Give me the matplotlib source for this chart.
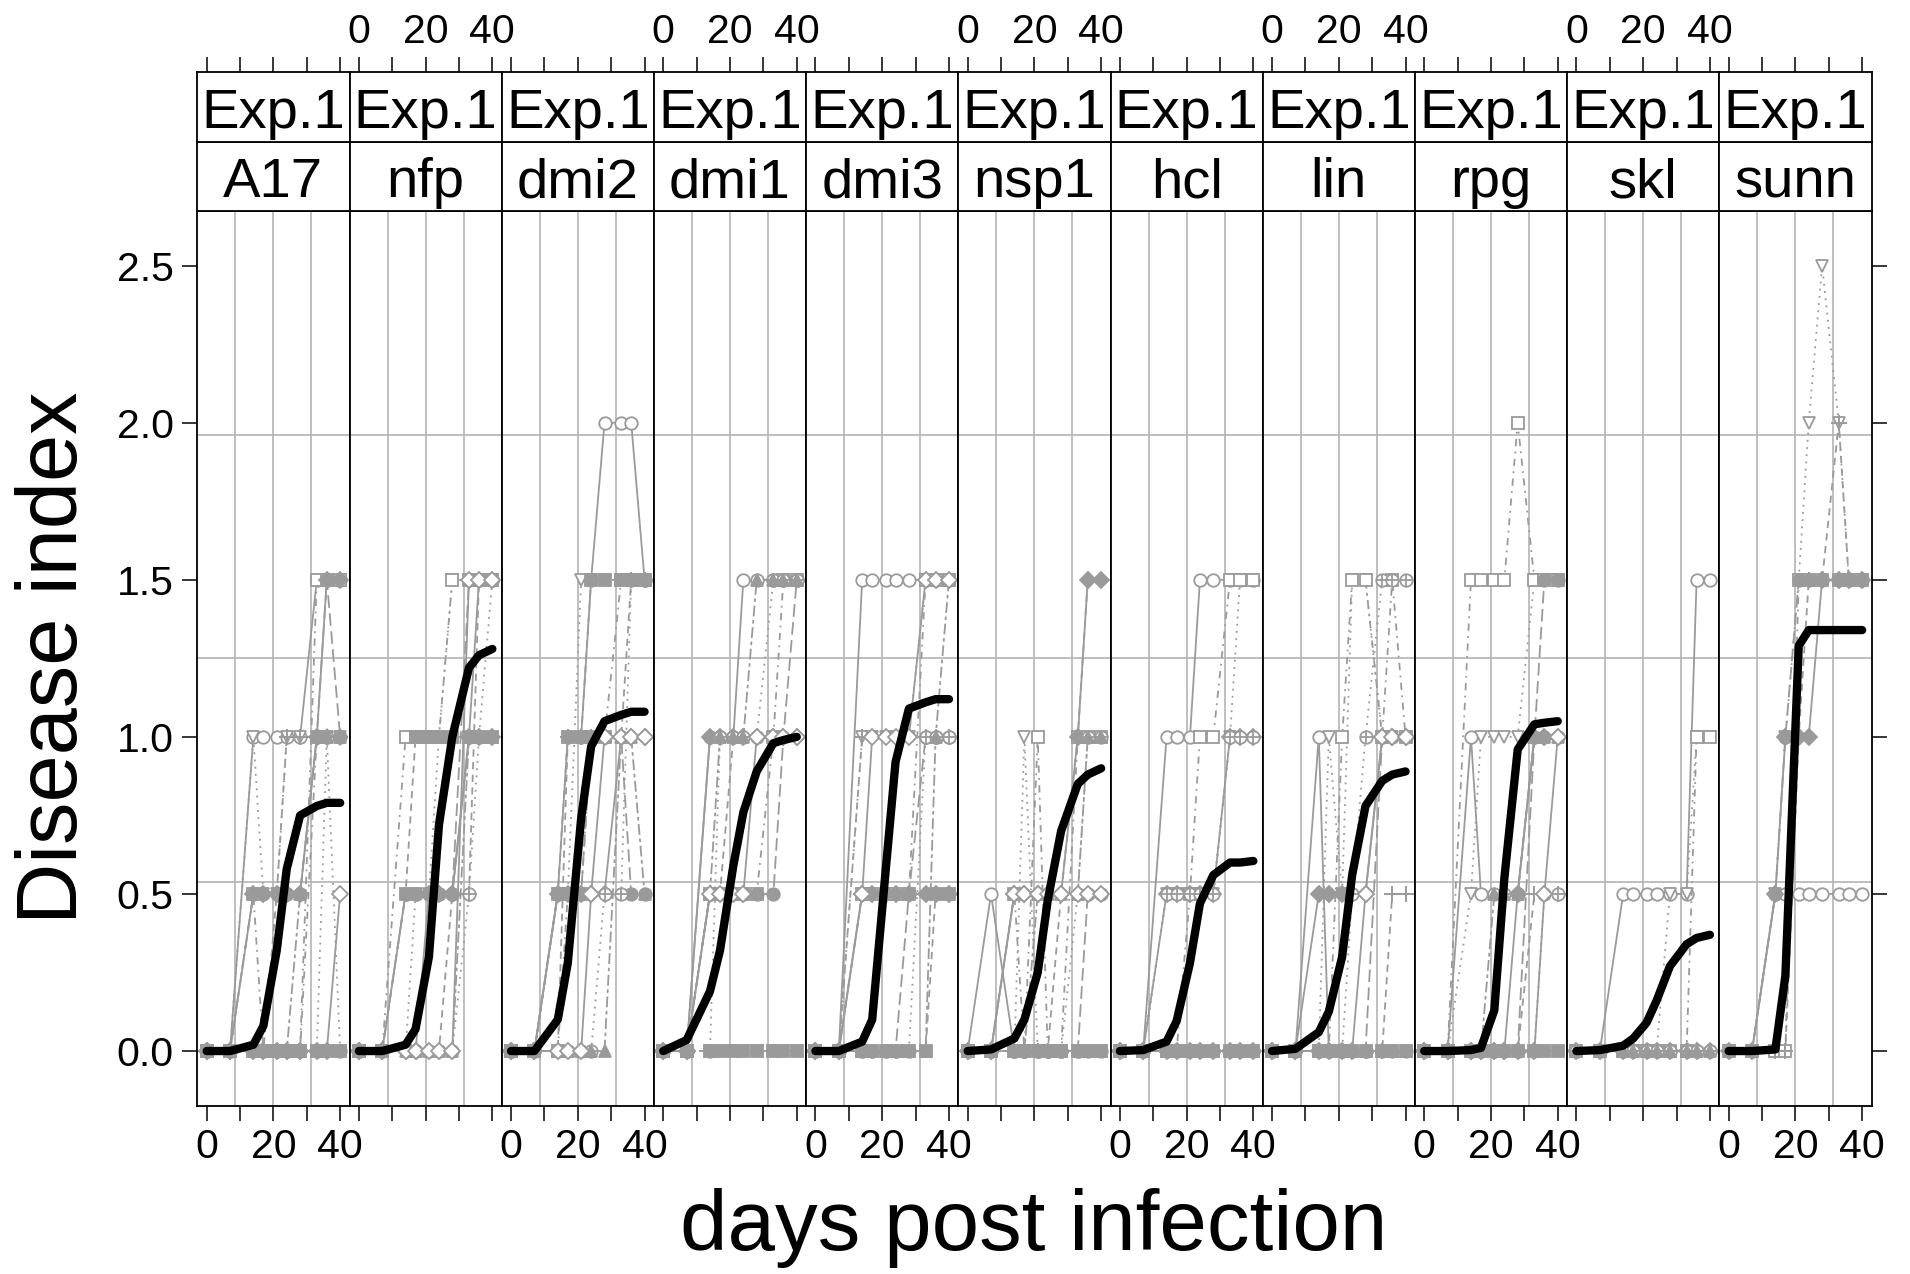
import matplotlib
matplotlib.use("Agg")
from matplotlib import pyplot as plt

plt.rcParams['font.family'] = ['Liberation Sans', 'DejaVu Sans']

W, H = 1910, 1274

DAYS = [0, 7, 14, 17, 21, 24, 28, 33, 36, 40]
EXPERIMENT = "Exp.1"
GENOTYPES = ["A17", "nfp", "dmi2", "dmi1", "dmi3", "nsp1", "hcl", "lin", "rpg", "skl", "sunn"]
Y_TICKS = [0.0, 0.5, 1.0, 1.5, 2.0, 2.5]
X_TICKS = [0, 10, 20, 30, 40]
X_TICKLABELS = ["0", "", "20", "", "40"]

# mean disease index (thick black curve)
A17_mean = [0, 0, 0.02, 0.08, 0.32, 0.58, 0.75, 0.78, 0.79, 0.79]
nfp_mean = [0, 0, 0.02, 0.07, 0.30, 0.72, 1.00, 1.22, 1.26, 1.28]
dmi2_mean = [0, 0, 0.10, 0.28, 0.74, 0.97, 1.05, 1.07, 1.08, 1.08]
dmi1_mean = [0, 0.035, 0.19, 0.32, 0.59, 0.76, 0.89, 0.98, 0.99, 1.00]
dmi3_mean = [0, 0, 0.03, 0.10, 0.57, 0.92, 1.09, 1.11, 1.12, 1.12]
nsp1_mean = [0, 0.005, 0.04, 0.10, 0.25, 0.48, 0.70, 0.85, 0.88, 0.90]
hcl_mean = [0, 0.003, 0.03, 0.095, 0.28, 0.47, 0.56, 0.60, 0.60, 0.605]
lin_mean = [0, 0.007, 0.06, 0.125, 0.30, 0.56, 0.78, 0.86, 0.88, 0.89]
rpg_mean = [0, 0, 0.003, 0.01, 0.13, 0.55, 0.96, 1.04, 1.045, 1.05]
skl_mean = [0, 0.003, 0.017, 0.04, 0.09, 0.16, 0.27, 0.34, 0.36, 0.37]
sunn_mean = [0, 0, 0.005, 0.24, 1.29, 1.34, 1.34, 1.34, 1.34, 1.34]

# single plants (thin grey curves)
A17_plants = [
    [0, 0, 1.0, 1.0, 1.0, 1.0, 1.0, 1.5, 1.5, 1.5],
    [0, 0, 1.0, 0.5, 0.5, 1.0, 1.0, 1.0, 1.0, 1.0],
    [0, 0, 0.5, 0, 0, 0, 0, 1.5, 1.5, 1.5],
    [0, 0, 0.5, 0.5, 0.5, 0.5, 0.5, 1.0, 1.5, 1.5],
    [0, 0, 0, 0, 0.5, 1.0, 1.0, 1.0, 1.0, 1.0],
    [0, 0, 0.5, 0.5, 0.5, 0.5, 0.5, 1.0, 1.5, 1.0],
    [0, 0, 0, 0, 0, 0, 0, 0, 1.0, 0],
    [0, 0, 0, 0, 0, 0, 0.5, 1.0, 1.0, 1.0],
    [0, 0, 0, 0, 0, 0, 0, 0, 0, 0.5],
    [0, 0, 0, 0, 0, 0, 0, 0, 0, 0],
    [0, 0, 0, 0, 0, 0, 0, 1.0, 1.0, 1.0],
]
nfp_plants = [
    [0, 0, 0.5, 0.5, 0.5, 0.5, 0.5, 1.0, 1.5, 1.5],
    [0, 0, 0, 0.5, 0.5, 1.0, 1.5, 1.5, 1.5, 1.5],
    [0, 0, 1.0, 1.0, 1.0, 1.0, 1.5, 1.5, 1.5, 1.5],
    [0, 0, 0, 0, 0.5, 0.5, 0.5, 1.0, 1.0, 1.0],
    [0, 0, 0, 0, 0, 0, 0.5, 0.5, 1.5, 1.5],
    [0, 0, 0.5, 0.5, 0.5, 0.5, 0.5, 1.5, 1.5, 1.5],
    [0, 0, 0, 0, 0, 0, 0, 0.5, 1.0, 1.5],
    [0, 0, 0, 0, 0, 0, 0, 1.0, 1.0, 1.0],
    [0, 0, 0, 0, 0, 0, 0, 1.5, 1.5, 1.5],
    [0, 0, 0.5, 1.0, 1.0, 1.0, 1.0, 1.0, 1.0, 1.0],
]
dmi2_plants = [
    [0, 0, 0.5, 1.0, 1.0, 1.5, 2.0, 2.0, 2.0, 1.5],
    [0, 0, 0.5, 0.5, 1.5, 1.5, 1.5, 1.5, 1.5, 1.5],
    [0, 0, 0, 0.5, 0.5, 1.0, 1.0, 1.5, 1.5, 1.5],
    [0, 0, 0.5, 0.5, 0.5, 0.5, 0.5, 1.0, 1.0, 1.0],
    [0, 0, 0, 1.0, 1.0, 1.0, 1.0, 1.0, 1.5, 1.5],
    [0, 0, 0.5, 0.5, 0.5, 1.0, 1.0, 1.0, 0.5, 0.5],
    [0, 0, 0, 0, 0, 0, 0.5, 0.5, 1.5, 1.5],
    [0, 0, 0, 0, 0, 0, 0, 1.0, 1.0, 0.5],
    [0, 0, 0, 0, 0, 0.5, 1.0, 1.0, 1.0, 1.0],
    [0, 0, 0.5, 1.0, 1.0, 1.5, 1.5, 1.5, 1.5, 1.5],
]
dmi1_plants = [
    [0, 0, 1.0, 1.0, 1.0, 1.5, 1.5, 1.5, 1.5, 1.5],
    [0, 0, 0, 0, 0, 0, 0, 0, 0, 0],
    [0, 0, 0.5, 0.5, 0.5, 0.5, 0.5, 1.0, 1.5, 1.5],
    [0, 0, 1.0, 1.0, 1.0, 1.0, 1.0, 1.0, 1.0, 1.0],
    [0, 0, 0.5, 0.5, 1.0, 1.0, 1.0, 1.0, 1.0, 1.0],
    [0, 0, 0.5, 0.5, 0.5, 0.5, 0.5, 0.5, 1.0, 1.5],
    [0, 0, 0, 1.0, 1.0, 1.0, 1.0, 1.5, 1.5, 1.5],
    [0, 0, 0.5, 1.0, 1.0, 1.0, 1.5, 1.5, 1.5, 1.5],
    [0, 0, 0.5, 0.5, 0.5, 0.5, 1.0, 1.0, 1.0, 1.0],
    [0, 0, 0, 0, 0, 0, 0, 0, 0, 0],
]
dmi3_plants = [
    [0, 0, 1.5, 1.5, 1.5, 1.5, 1.5, 1.5, 1.5, 1.5],
    [0, 0, 1.0, 1.0, 1.0, 1.0, 1.0, 1.5, 1.5, 1.5],
    [0, 0, 0.5, 0.5, 0.5, 0.5, 0.5, 1.5, 1.5, 1.5],
    [0, 0, 0.5, 0.5, 0.5, 0.5, 0.5, 0.5, 0.5, 0.5],
    [0, 0, 1.0, 1.0, 1.0, 1.0, 1.0, 1.0, 1.0, 1.0],
    [0, 0, 0, 0, 0, 0, 0.5, 1.0, 1.0, 1.0],
    [0, 0, 0, 0, 0, 0, 0, 1.0, 1.0, 1.0],
    [0, 0, 0, 0, 0, 0, 0, 0, 1.0, 1.5],
    [0, 0, 0.5, 1.0, 1.0, 1.0, 1.0, 1.5, 1.5, 1.5],
    [0, 0, 0, 0, 0, 0, 0, 0, 0.5, 0.5],
]
nsp1_plants = [
    [0, 0.5, 0, 0, 0, 0, 0, 0, 0, 0],
    [0, 0, 0, 1.0, 0, 0, 0, 0, 0, 0],
    [0, 0, 0.5, 0, 1.0, 0, 0, 1.0, 1.0, 1.0],
    [0, 0, 0.5, 0.5, 0.5, 0.5, 0.5, 1.0, 1.5, 1.5],
    [0, 0, 0, 0, 0, 0, 0.5, 1.0, 1.5, 1.5],
    [0, 0, 0, 0, 0, 0, 0, 0, 0.5, 0.5],
    [0, 0, 0, 0, 0, 0, 0, 0.5, 1.0, 1.0],
    [0, 0, 0, 0, 0.5, 0.5, 0.5, 0.5, 1.0, 1.0],
    [0, 0, 0.5, 0.5, 0.5, 0.5, 0.5, 0.5, 0.5, 0.5],
    [0, 0, 0, 0, 0, 0, 0, 0, 0, 0],
]
hcl_plants = [
    [0, 0, 1.0, 1.0, 1.0, 1.5, 1.5, 1.5, 1.5, 1.5],
    [0, 0, 0.5, 0.5, 0.5, 0.5, 0.5, 1.0, 1.5, 1.5],
    [0, 0, 0, 0, 0.5, 1.0, 1.0, 1.5, 1.5, 1.5],
    [0, 0, 0.5, 0.5, 0.5, 0.5, 0.5, 1.0, 1.0, 1.0],
    [0, 0, 0, 0, 0, 0, 0, 0, 0, 0],
    [0, 0, 0, 0, 0, 0, 0, 0, 0, 0],
    [0, 0, 0.5, 0.5, 0.5, 0.5, 0.5, 1.0, 1.0, 1.0],
    [0, 0, 0, 0, 0, 0, 0, 0, 0, 0],
    [0, 0, 0, 0, 0, 0, 0, 0, 0, 0],
    [0, 0, 0, 0, 0, 0, 0, 0, 0, 0],
]
lin_plants = [
    [0, 0, 1.0, 0, 0, 0, 0, 0, 0, 0],
    [0, 0, 0, 1.0, 0.5, 1.5, 1.5, 1.0, 1.0, 1.0],
    [0, 0, 0, 0, 1.0, 1.5, 1.5, 1.0, 1.5, 1.0],
    [0, 0, 0.5, 0.5, 0.5, 0.5, 0.5, 1.0, 1.0, 1.0],
    [0, 0, 0, 0, 0, 0, 0, 0, 0.5, 0.5],
    [0, 0, 0, 0, 0, 0, 0, 1.0, 1.0, 1.0],
    [0, 0, 0, 0, 0, 0.5, 1.0, 1.5, 1.5, 1.5],
    [0, 0, 0, 0, 0, 0, 0, 0, 0, 0],
    [0, 0, 0, 0, 0, 0, 0.5, 1.0, 1.0, 1.0],
    [0, 0, 0, 0, 0, 0, 0, 0, 0, 0],
]
rpg_plants = [
    [0, 0, 1.0, 0.5, 0.5, 0.5, 0.5, 1.0, 1.0, 1.0],
    [0, 0, 0.5, 1.0, 1.0, 1.0, 1.0, 1.5, 1.5, 1.5],
    [0, 0, 1.5, 1.5, 1.5, 1.5, 2.0, 1.5, 1.5, 1.5],
    [0, 0, 0, 0, 0, 0, 0.5, 1.0, 1.0, 1.0],
    [0, 0, 0, 0, 0, 0, 0, 0.5, 0.5, 0.5],
    [0, 0, 0, 0, 0, 0, 0, 1.0, 1.5, 1.5],
    [0, 0, 0, 0, 0, 0, 0, 0, 0.5, 0.5],
    [0, 0, 0, 0, 0.5, 0.5, 0.5, 1.0, 1.0, 1.0],
    [0, 0, 0, 0, 0, 0, 0, 0, 0.5, 1.0],
    [0, 0, 0, 0, 0, 0, 0, 0, 0, 0],
]
skl_plants = [
    [0, 0, 0.5, 0.5, 0.5, 0.5, 0.5, 0.5, 1.5, 1.5],
    [0, 0, 0, 0, 0, 0, 0.5, 0.5, 1.0, 1.0],
    [0, 0, 0, 0, 0, 0, 0, 0, 1.0, 1.0],
    [0, 0, 0, 0, 0, 0, 0, 0, 0, 0],
    [0, 0, 0, 0, 0, 0, 0, 0, 0, 0],
    [0, 0, 0, 0, 0, 0, 0, 0, 0, 0],
    [0, 0, 0, 0, 0, 0, 0, 0, 0, 0],
    [0, 0, 0, 0, 0, 0, 0, 0, 0, 0],
]
sunn_plants = [
    [0, 0, 0.5, 0.5, 0.5, 0.5, 0.5, 0.5, 0.5, 0.5],
    [0, 0, 0.5, 1.0, 1.5, 2.0, 2.5, 2.0, 1.5, 1.5],
    [0, 0, 0, 0, 1.5, 1.5, 1.5, 1.5, 1.5, 1.5],
    [0, 0, 0.5, 1.0, 1.0, 1.0, 1.5, 1.5, 1.5, 1.5],
    [0, 0, 0, 0, 1.0, 1.5, 1.5, 2.0, 1.5, 1.5],
    [0, 0, 0.5, 1.0, 1.5, 1.5, 1.5, 1.5, 1.5, 1.5],
]

DATA = {
    "A17": (A17_mean, A17_plants), "nfp": (nfp_mean, nfp_plants),
    "dmi2": (dmi2_mean, dmi2_plants), "dmi1": (dmi1_mean, dmi1_plants),
    "dmi3": (dmi3_mean, dmi3_plants), "nsp1": (nsp1_mean, nsp1_plants),
    "hcl": (hcl_mean, hcl_plants), "lin": (lin_mean, lin_plants),
    "rpg": (rpg_mean, rpg_plants), "skl": (skl_mean, skl_plants),
    "sunn": (sunn_mean, sunn_plants),
}

GREY = "#9a9a9a"
GRID = "#b4b4b4"
DOT = (0, (1, 3))
DASH = (0, (4, 3))
DOTDASH = (0, (1, 3, 4, 3))
LONGDASH = (0, (7, 3))
TWODASH = (0, (2, 2, 6, 2))
# (marker, filled, linestyle)
STYLES = [
    ("o", False, "-"), ("v", False, DOT), ("s", False, DOTDASH),
    ("D", True, "-"), ("+", False, DASH), ("o", True, LONGDASH),
    ("oplus", False, DOT), ("^", True, TWODASH), ("D", False, "-"),
    ("s", True, DASH), ("d", True, DOTDASH), ("oplus", False, "-"),
]

XLIM = (-2.8, 42.8)
YLIM = (-0.175, 2.675)
FS_TICK = 29.5
FS_STRIP = 40.5
TICK_LEN = 11

left0, pw = 197.3, 152.2
p_top, p_bot = 210.7, 1106.0
s_mid, s_top = 142.0, 72.0

fig = plt.figure(figsize=(W / 100, H / 100), dpi=100)


def fr(x0, y0, x1, y1):
    # pixel box (top-left origin) -> figure fraction rect
    return [x0 / W, 1 - y1 / H, (x1 - x0) / W, (y1 - y0) / H]


def draw_plant(ax, vals, style):
    mk, filled, ls = style
    kw = dict(color=GREY, lw=1.3, ls=ls, zorder=2, solid_capstyle="butt")
    if mk == "oplus":
        ax.plot(DAYS, vals, marker="o", ms=9, mfc="white", mec=GREY, mew=1.3, **kw)
        ax.plot(DAYS, vals, ls="none", marker="+", ms=9, mec=GREY, mew=1.3, zorder=2)
    elif mk == "+":
        ax.plot(DAYS, vals, marker="+", ms=11, mec=GREY, mew=1.4, **kw)
    else:
        ms = 8 if mk in ("D", "d") else 9
        ax.plot(DAYS, vals, marker=mk, ms=ms, mfc=GREY if filled else "white",
                mec=GREY, mew=1.3, **kw)


n = len(GENOTYPES)
for i, g in enumerate(GENOTYPES):
    x0 = left0 + i * pw
    x1 = x0 + pw
    ax = fig.add_axes(fr(x0, p_top, x1, p_bot))
    ax.set_xlim(*XLIM)
    ax.set_ylim(*YLIM)

    for k in (1, 2, 3):
        ax.axvline(XLIM[0] + k * (XLIM[1] - XLIM[0]) / 4, color=GRID, lw=1.2, zorder=1)
        ax.axhline(YLIM[0] + k * (YLIM[1] - YLIM[0]) / 4, color=GRID, lw=1.2, zorder=1)

    mean, plants = DATA[g]
    for j, vals in enumerate(plants):
        draw_plant(ax, vals, STYLES[j % len(STYLES)])
    ax.plot(DAYS, mean, color="black", lw=6.0, zorder=4,
            solid_capstyle="round", solid_joinstyle="round")

    for sp in ax.spines.values():
        sp.set_linewidth(1.3)

    ax.set_xticks(X_TICKS)
    ax.tick_params(axis="x", direction="out", length=TICK_LEN, width=1.1,
                   labelsize=FS_TICK, pad=5, top=False)
    if i % 2 == 0:
        ax.set_xticklabels(X_TICKLABELS)
    else:
        ax.set_xticklabels([])

    ax.set_yticks(Y_TICKS)
    if i == 0:
        ax.set_yticklabels([f"{v:.1f}" for v in Y_TICKS])
        ax.tick_params(axis="y", direction="out", length=TICK_LEN, width=1.1,
                       labelsize=FS_TICK, pad=6)
    elif i == n - 1:
        ax.yaxis.tick_right()
        ax.set_yticklabels([])
        ax.tick_params(axis="y", direction="out", length=TICK_LEN, width=1.1)
    else:
        ax.tick_params(axis="y", left=False, labelleft=False)

    # strips
    sa = fig.add_axes(fr(x0, s_mid, x1, p_top))
    sa.set_xticks([])
    sa.set_yticks([])
    sa.text(0.5, 0.40, g, transform=sa.transAxes, ha="center", va="center",
            fontsize=FS_STRIP)
    sb = fig.add_axes(fr(x0, s_top, x1, s_mid))
    sb.set_yticks([])
    sb.set_xlim(*XLIM)
    sb.text(0.5, 0.40, EXPERIMENT, transform=sb.transAxes, ha="center", va="center",
            fontsize=FS_STRIP)
    sb.xaxis.tick_top()
    sb.set_xticks(X_TICKS)
    sb.tick_params(axis="x", direction="out", length=TICK_LEN, width=1.1,
                   labelsize=FS_TICK, pad=4)
    if i % 2 == 1:
        sb.set_xticklabels(X_TICKLABELS)
    else:
        sb.set_xticklabels([])
    for a in (sa, sb):
        for sp in a.spines.values():
            sp.set_linewidth(1.3)

fig.text(1034 / W, 1 - 1228 / H, "days post infection", ha="center", va="center",
         fontsize=61.5)
fig.text(55 / W, 1 - 658 / H, "Disease index", ha="center", va="center",
         rotation=90, fontsize=61)

fig.savefig("out.png", dpi=100)
